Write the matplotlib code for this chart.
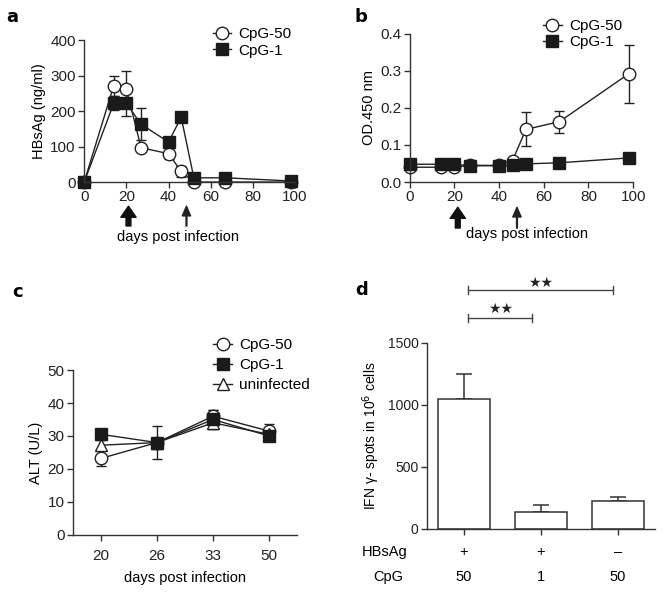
import matplotlib

matplotlib.use("Agg")
import numpy as np
import matplotlib.pyplot as plt
from matplotlib.lines import Line2D
from matplotlib.transforms import blended_transform_factory

plt.rcParams["font.family"] = ["Liberation Sans", "DejaVu Sans"]
plt.rcParams["font.size"] = 10.5
plt.rcParams["axes.linewidth"] = 1.0
plt.rcParams["axes.edgecolor"] = "#333333"
plt.rcParams["xtick.color"] = "#333333"
plt.rcParams["ytick.color"] = "#333333"
plt.rcParams["xtick.labelcolor"] = "#222222"
plt.rcParams["ytick.labelcolor"] = "#222222"

############### DATA ################
# panel a - HBsAg
days_a = [0, 14, 20, 27, 40, 46, 52, 67, 98]
hbsag_cpg50 = [0, 272, 262, 97, 80, 30, 0, 0, 0]
hbsag_cpg50_err = [0, 28, 52, 8, 15, 15, 0, 0, 0]
hbsag_cpg1 = [0, 222, 222, 163, 113, 183, 12, 12, 3]
hbsag_cpg1_err = [0, 20, 35, 45, 15, 12, 0, 0, 0]

# panel b - OD450
days_b = [0, 14, 20, 27, 40, 46, 52, 67, 98]
od_cpg50 = [0.040, 0.040, 0.040, 0.045, 0.045, 0.058, 0.142, 0.163, 0.292]
od_cpg50_err = [0.004, 0.004, 0.004, 0.004, 0.004, 0.006, 0.046, 0.030, 0.078]
od_cpg1 = [0.048, 0.048, 0.048, 0.044, 0.044, 0.045, 0.049, 0.052, 0.065]
od_cpg1_err = [0.003, 0.003, 0.003, 0.003, 0.003, 0.003, 0.003, 0.003, 0.003]

# panel c - ALT
days_c = ["20", "26", "33", "50"]
alt_cpg50 = [23.2, 28, 36, 31.5]
alt_cpg50_err = [2.3, 1.0, 2.0, 2.0]
alt_cpg1 = [30.5, 28, 35, 30]
alt_cpg1_err = [1.5, 5.0, 3.0, 1.5]
alt_uninf = [27.2, 28, 34, 30.5]
alt_uninf_err = [1.5, 1.0, 2.0, 1.0]

# panel d - IFN gamma spots
hbsag_row = ["+", "+", "\u2013"]
cpg_row = ["50", "1", "50"]
spots = [1045, 140, 222]
spots_err = [200, 50, 35]

fig = plt.figure(figsize=(6.63, 5.93), dpi=100)

FS = 10.5
line_kw = dict(color="#222222", lw=1.0, clip_on=False)
circ_kw = dict(marker="o", ms=9, mfc="white", mec="#222222", mew=1.0)
sq_kw = dict(marker="s", ms=8, mfc="#1a1a1a", mec="#1a1a1a", mew=1.0)
tri_kw = dict(marker="^", ms=9, mfc="white", mec="#222222", mew=1.0)
err_kw = dict(ecolor="#222222", elinewidth=1.0, capsize=3.5, capthick=1.0)


def style(ax):
    ax.spines["top"].set_visible(False)
    ax.spines["right"].set_visible(False)
    ax.tick_params(direction="out", length=4, width=1.0, labelsize=11, pad=2)


def arrows(ax, x_thick, x_thin):
    tr = blended_transform_factory(ax.transData, ax.transAxes)
    ax.annotate("", xy=(x_thick, -0.17), xytext=(x_thick, -0.31),
                xycoords=tr, textcoords=tr,
                arrowprops=dict(width=3.5, headwidth=11, headlength=8,
                                color="#111111", shrink=0))
    ax.annotate("", xy=(x_thin, -0.17), xytext=(x_thin, -0.31),
                xycoords=tr, textcoords=tr,
                arrowprops=dict(width=0.6, headwidth=6, headlength=7,
                                color="#222222", shrink=0))


def add_legend(ax, styles, labels, anchor, spacing=0.15):
    handles = [Line2D([], [], color="#222222", lw=1.0, **s) for s in styles]
    ax.legend(handles, labels, loc="upper left", bbox_to_anchor=anchor,
              frameon=False, handlelength=1.2, handletextpad=0.5,
              labelspacing=spacing, fontsize=11, borderaxespad=0)


############### PANEL A ################
ax_a = fig.add_axes([0.127, 0.693, 0.318, 0.239])
ax_a.errorbar(days_a, hbsag_cpg50, yerr=hbsag_cpg50_err, **line_kw, **circ_kw, **err_kw)
ax_a.errorbar(days_a, hbsag_cpg1, yerr=hbsag_cpg1_err, **line_kw, **sq_kw, **err_kw)
ax_a.set_xlim(0, 100)
ax_a.set_ylim(0, 400)
ax_a.set_xticks([0, 20, 40, 60, 80, 100])
ax_a.set_yticks([0, 100, 200, 300, 400])
ax_a.set_ylabel("HBsAg (ng/ml)", fontsize=FS, labelpad=3)
style(ax_a)
arrows(ax_a, 21, 48.5)
ax_a.text(0.445, -0.39, "days post infection", transform=ax_a.transAxes,
          ha="center", va="center", fontsize=FS)
add_legend(ax_a, [circ_kw, sq_kw], ["CpG-50", "CpG-1"], (0.58, 1.135))

############### PANEL B ################
ax_b = fig.add_axes([0.618, 0.693, 0.337, 0.250])
ax_b.errorbar(days_b, od_cpg50, yerr=od_cpg50_err, **line_kw, **circ_kw, **err_kw)
ax_b.errorbar(days_b, od_cpg1, yerr=od_cpg1_err, **line_kw, **sq_kw, **err_kw)
ax_b.set_xlim(0, 100)
ax_b.set_ylim(0, 0.4)
ax_b.set_xticks([0, 20, 40, 60, 80, 100])
ax_b.set_yticks([0.0, 0.1, 0.2, 0.3, 0.4])
ax_b.set_yticklabels(["0.0", "0.1", "0.2", "0.3", "0.4"])
ax_b.set_ylabel("OD.450 nm", fontsize=FS, labelpad=3)
style(ax_b)
arrows(ax_b, 21.5, 48)
ax_b.text(0.525, -0.35, "days post infection", transform=ax_b.transAxes,
          ha="center", va="center", fontsize=FS)
add_legend(ax_b, [circ_kw, sq_kw], ["CpG-50", "CpG-1"], (0.57, 1.14))

############### PANEL C ################
ax_c = fig.add_axes([0.110, 0.098, 0.338, 0.278])
xc = np.arange(len(days_c))
ax_c.errorbar(xc, alt_cpg50, yerr=alt_cpg50_err, **line_kw, **circ_kw, **err_kw)
ax_c.errorbar(xc, alt_uninf, yerr=alt_uninf_err, **line_kw, **tri_kw, **err_kw)
ax_c.errorbar(xc, alt_cpg1, yerr=alt_cpg1_err, **line_kw, **sq_kw, **err_kw)
ax_c.set_xlim(-0.5, 3.5)
ax_c.set_ylim(0, 50)
ax_c.set_xticks(xc)
ax_c.set_xticklabels(days_c)
ax_c.set_yticks([0, 10, 20, 30, 40, 50])
ax_c.set_ylabel("ALT (U/L)", fontsize=FS, labelpad=3)
style(ax_c)
ax_c.tick_params(axis="x", pad=6)
ax_c.text(0.5, -0.26, "days post infection", transform=ax_c.transAxes,
          ha="center", va="center", fontsize=FS)
add_legend(ax_c, [circ_kw, sq_kw, tri_kw], ["CpG-50", "CpG-1", "uninfected"],
           (0.60, 1.23), spacing=0.4)

############### PANEL D ################
ax_d = fig.add_axes([0.644, 0.108, 0.344, 0.314])
xd = np.arange(len(spots))
ax_d.bar(xd, spots, width=0.67, color="white", edgecolor="#333333",
         linewidth=1.1, zorder=2)
ax_d.errorbar(xd, spots, yerr=[[0] * len(spots), spots_err], fmt="none",
              ecolor="#333333", elinewidth=1.1, capsize=6, capthick=1.1,
              zorder=1)
ax_d.set_xlim(-0.48, 2.48)
ax_d.set_ylim(0, 1500)
ax_d.set_xticks(xd)
ax_d.set_xticklabels([])
ax_d.set_yticks([0, 500, 1000, 1500])
ax_d.set_ylabel("IFN \u03b3- spots in 10$^6$ cells", fontsize=10, labelpad=4)
style(ax_d)
ax_d.tick_params(axis="y", labelsize=10)

# significance brackets
for x0, x1, yb in [(0.05, 1.94, 1925), (0.05, 0.88, 1700)]:
    ax_d.plot([x0, x1], [yb, yb], color="#444444", lw=1.0, clip_on=False)
    ax_d.plot([x0, x0], [yb - 35, yb + 35], color="#444444", lw=1.0, clip_on=False)
    ax_d.plot([x1, x1], [yb - 35, yb + 35], color="#444444", lw=1.0, clip_on=False)
ax_d.text(1.0, 1985, "\u2605\u2605", ha="center", va="center", fontsize=10,
          family="DejaVu Sans", color="#222222")
ax_d.text(0.47, 1770, "\u2605\u2605", ha="center", va="center", fontsize=10,
          family="DejaVu Sans", color="#222222")

# row labels
tr = blended_transform_factory(ax_d.transData, ax_d.transAxes)
ax_d.text(-0.184, -0.125, "HBsAg", transform=ax_d.transAxes, ha="center",
          va="center", fontsize=FS)
ax_d.text(-0.17, -0.258, "CpG", transform=ax_d.transAxes, ha="center",
          va="center", fontsize=FS)
for i in range(len(spots)):
    ax_d.text(xd[i], -0.125, hbsag_row[i], transform=tr, ha="center",
              va="center", fontsize=FS)
    ax_d.text(xd[i], -0.258, cpg_row[i], transform=tr, ha="center",
              va="center", fontsize=FS)

############### PANEL LETTERS ################
for lab, x, y in [("a", 0.018, 0.972), ("b", 0.545, 0.972),
                  ("c", 0.026, 0.508), ("d", 0.546, 0.511)]:
    fig.text(x, y, lab, fontsize=13, fontweight="bold", ha="center",
             va="center", family="DejaVu Sans")

fig.savefig("out.png", dpi=100)
